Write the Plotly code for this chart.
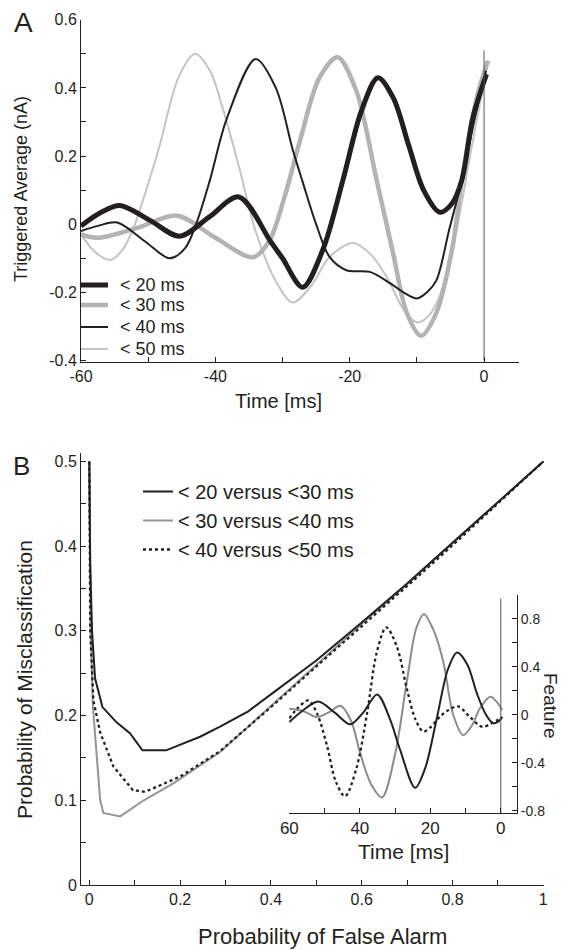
import plotly.graph_objects as go

# ---------------- Panel A: triggered averages ----------------
t20 = [-60, -57, -54.2, -49.8, -45.3, -41, -36.5, -31.8, -30, -27, -24, -21, -18.3, -15.8, -13.5, -11.2, -9, -6.6, -4.8, -3.3, -1.7, 0.36]
v20 = [-0.005, 0.035, 0.055, 0.012, -0.035, 0.02, 0.08, -0.05, -0.1, -0.185, -0.075, 0.13, 0.33, 0.43, 0.37, 0.23, 0.1, 0.035, 0.06, 0.13, 0.31, 0.44]

t30 = [-60, -57.5, -51.5, -45.7, -40, -34.4, -32, -29.7, -27.4, -24.5, -21.8, -19, -16, -13.6, -11.5, -9.4, -7.1, -4.7, -3.3, -1.1, 0.6]
v30 = [-0.03, -0.04, -0.01, 0.025, -0.04, -0.097, -0.05, 0.08, 0.245, 0.43, 0.49, 0.39, 0.13, -0.08, -0.26, -0.327, -0.26, -0.067, 0.13, 0.37, 0.48]

t40 = [-60, -57.5, -54.6, -50.5, -46.8, -44.5, -42.8, -40.8, -38.3, -34, -31, -28.5, -27.1, -25, -23, -20.5, -17, -14, -12, -10, -8.5, -7.1, -5.2, -3.3, -1.5, 0.3]
v40 = [-0.02, -0.005, 0.005, -0.05, -0.10, -0.07, 0.004, 0.13, 0.31, 0.485, 0.4, 0.22, 0.13, 0.0, -0.096, -0.135, -0.14, -0.173, -0.2, -0.218, -0.2, -0.165, -0.017, 0.13, 0.3, 0.45]

t50 = [-60, -58, -55.7, -54, -52.3, -50.3, -48.3, -45.5, -43, -40.8, -38.9, -36.5, -34.1, -31.2, -28.5, -25.7, -23, -19.5, -16.8, -14.5, -12, -10, -8.3, -6.6, -4.1, -2, 0.5]
v50 = [-0.03, -0.08, -0.105, -0.08, -0.017, 0.1, 0.23, 0.43, 0.5, 0.45, 0.34, 0.17, -0.015, -0.16, -0.23, -0.18, -0.096, -0.055, -0.09, -0.155, -0.25, -0.288, -0.27, -0.21, -0.017, 0.21, 0.47]

zeroA_t = [0, 0]
zeroA_v = [-0.4, 0.51]

namesA = ["< 20 ms", "< 30 ms", "< 40 ms", "< 50 ms"]

A_xticks = [-60, -40, -20, 0]
A_xticktext = ["-60", "-40", "-20", "0"]
A_xminor = [-50, -30, -10]
A_yticks = [-0.4, -0.2, 0, 0.2, 0.4, 0.6]
A_yticktext = ["-0.4", "-0.2", "0", "0.2", "0.4", "0.6"]
A_yminor = [-0.3, -0.1, 0.1, 0.3, 0.5]

# ---------------- Panel B: misclassification ----------------
fa20 = [0, 0.002, 0.006, 0.0126, 0.029, 0.06, 0.09, 0.117, 0.169, 0.244, 0.288, 0.35, 0.4, 0.5, 0.6, 0.7, 0.8, 0.9, 1.0]
pm20 = [0.5, 0.38, 0.3, 0.244, 0.21, 0.192, 0.179, 0.159, 0.159, 0.175, 0.187, 0.205, 0.225, 0.265, 0.31, 0.356, 0.404, 0.452, 0.5]

fa30 = [0, 0.003, 0.008, 0.016, 0.024, 0.031, 0.068, 0.12, 0.185, 0.288, 0.4, 0.5, 0.6, 0.7, 0.8, 0.9, 1.0]
pm30 = [0.5, 0.3, 0.21, 0.16, 0.1, 0.085, 0.081, 0.1, 0.12, 0.157, 0.211, 0.26, 0.308, 0.355, 0.403, 0.452, 0.5]

fa40 = [0, 0.002, 0.009, 0.024, 0.053, 0.096, 0.123, 0.2, 0.288, 0.4, 0.5, 0.6, 0.7, 0.8, 0.9, 1.0]
pm40 = [0.5, 0.3, 0.218, 0.18, 0.14, 0.112, 0.11, 0.128, 0.158, 0.21, 0.258, 0.305, 0.353, 0.401, 0.45, 0.5]

namesB = ["< 20 versus <30 ms", "< 30 versus <40 ms", "< 40 versus <50 ms"]

B_xticks = [0, 0.2, 0.4, 0.6, 0.8, 1]
B_xticktext = ["0", "0.2", "0.4", "0.6", "0.8", "1"]
B_xminor = [0.1, 0.3, 0.5, 0.7, 0.9]
B_yticks = [0, 0.1, 0.2, 0.3, 0.4, 0.5]
B_yticktext = ["0", "0.1", "0.2", "0.3", "0.4", "0.5"]
B_yminor = [0.05, 0.15, 0.25, 0.35, 0.45]

# ---------------- Inset: features ----------------
ti_blk = [60, 56, 51.8, 47.2, 42.7, 39, 35.1, 31.4, 28.6, 24.3, 21.5, 18.3, 15, 12.4, 9.5, 6.8, 4.2, 2.2, 0.8, -0.4]
vi_blk = [-0.06, 0.04, 0.11, 0.02, -0.08, 0.02, 0.17, -0.04, -0.29, -0.61, -0.45, -0.05, 0.38, 0.52, 0.42, 0.18, 0.0, -0.07, -0.06, -0.02]

ti_gry = [60, 56, 52.2, 48.8, 45.5, 42.5, 39.9, 36.8, 33.7, 30, 26.6, 24, 21.8, 19, 16.3, 13.5, 10.7, 8.2, 6, 3, 1.2, -0.4]
vi_gry = [0.05, 0.03, -0.02, 0.02, 0.075, -0.05, -0.32, -0.58, -0.69, -0.33, 0.29, 0.72, 0.84, 0.7, 0.44, 0.0, -0.17, -0.09, 0.05, 0.15, 0.11, 0.04]

ti_dot = [60, 57.5, 54.6, 52, 49.3, 46.8, 44.2, 41, 37.9, 35.2, 32.5, 29.5, 26.6, 24.2, 22, 19.8, 17.2, 14.8, 12.1, 8.7, 5.3, 2.5, -0.4]
vi_dot = [-0.03, 0.06, 0.12, 0.0, -0.26, -0.56, -0.68, -0.45, 0.02, 0.52, 0.73, 0.57, 0.21, -0.04, -0.14, -0.1, -0.014, 0.04, 0.07, -0.02, -0.1, -0.07, -0.02]

zeroI_t = [0, 0]
zeroI_v = [-0.82, 0.97]

I_xticks = [60, 40, 20, 0]
I_xticktext = ["60", "40", "20", "0"]
I_xminor = [50, 30, 10]
I_yticks = [-0.8, -0.4, 0, 0.4, 0.8]
I_yticktext = ["-0.8", "-0.4", "0", "0.4", "0.8"]
I_yminor = [-0.6, -0.2, 0.2, 0.6]

# ---------------- styling ----------------
INK = "#231f20"
FONT = "Arial, Liberation Sans, Helvetica, sans-serif"
W, H = 567, 950
OFF = 8  # the page body adds an 8px margin; place everything in window pixels


def px(x):
    return (x - OFF) / W


def py(y):
    return 1 - (y - OFF) / H


fig = go.Figure()

# Panel A traces (light ones drawn first)
styleA = {
    namesA[3]: (t50, v50, "#c4c4c6", 2.0),
    namesA[1]: (t30, v30, "#b3b3b5", 4.5),
    namesA[2]: (t40, v40, INK, 2.0),
    namesA[0]: (t20, v20, INK, 5.0),
}
for nm, (tx, vy, col, w) in styleA.items():
    fig.add_trace(go.Scatter(x=tx, y=vy, name=nm, mode="lines", showlegend=False,
                             line=dict(color=col, width=w, shape="spline", smoothing=0.9),
                             xaxis="x", yaxis="y"))
fig.add_trace(go.Scatter(x=zeroA_t, y=zeroA_v, mode="lines", showlegend=False,
                         line=dict(color="#555555", width=1), xaxis="x", yaxis="y"))

# Panel B traces
fig.add_trace(go.Scatter(x=fa30, y=pm30, name=namesB[1], mode="lines",
                         line=dict(color="#959595", width=2), xaxis="x2", yaxis="y2",
                         legend="legend2", legendrank=2))
fig.add_trace(go.Scatter(x=fa40, y=pm40, name=namesB[2], mode="lines",
                         line=dict(color=INK, width=2.3, dash="dot"), xaxis="x2", yaxis="y2",
                         legend="legend2", legendrank=3))
fig.add_trace(go.Scatter(x=fa20, y=pm20, name=namesB[0], mode="lines",
                         line=dict(color=INK, width=2), xaxis="x2", yaxis="y2",
                         legend="legend2", legendrank=1))

# Inset traces
fig.add_trace(go.Scatter(x=ti_gry, y=vi_gry, mode="lines", showlegend=False,
                         line=dict(color="#8c8c8c", width=2, shape="spline", smoothing=0.9),
                         xaxis="x3", yaxis="y3"))
fig.add_trace(go.Scatter(x=ti_dot, y=vi_dot, mode="lines", showlegend=False,
                         line=dict(color=INK, width=2.3, dash="dot", shape="spline", smoothing=0.9),
                         xaxis="x3", yaxis="y3"))
fig.add_trace(go.Scatter(x=ti_blk, y=vi_blk, mode="lines", showlegend=False,
                         line=dict(color=INK, width=2, shape="spline", smoothing=0.9),
                         xaxis="x3", yaxis="y3"))
fig.add_trace(go.Scatter(x=zeroI_t, y=zeroI_v, mode="lines", showlegend=False,
                         line=dict(color="#555555", width=1), xaxis="x3", yaxis="y3"))


def ax(domain, rng, tv, tt, minor, fsize, anchor, side=None):
    d = dict(domain=domain, range=rng, tickmode="array", tickvals=tv, ticktext=tt,
             ticks="inside", ticklen=5, tickwidth=1, tickcolor=INK,
             showline=True, linecolor=INK, linewidth=1, showgrid=False, zeroline=False,
             tickfont=dict(family=FONT, size=fsize, color=INK), anchor=anchor, automargin=False,
             minor=dict(tickvals=minor, ticks="inside", ticklen=5, tickwidth=1, tickcolor=INK))
    if side:
        d["side"] = side
    return d


fig.update_layout(
    width=W, height=H, margin=dict(l=0, r=0, t=0, b=0, pad=0, autoexpand=False),
    paper_bgcolor="white", plot_bgcolor="rgba(0,0,0,0)",
    font=dict(family=FONT, color=INK),
    xaxis=ax([px(81), px(519)], [-60, 5.2], A_xticks, A_xticktext, A_xminor, 16, "y"),
    yaxis=ax([py(362), py(19.75)], [-0.4044, 0.6], A_yticks, A_yticktext, A_yminor, 16, "x"),
    xaxis2=ax([px(81), px(544)], [-0.0183, 1.0015], B_xticks, B_xticktext, B_xminor, 16, "y2"),
    yaxis2=ax([py(885), py(453)], [0, 0.51], B_yticks, B_yticktext, B_yminor, 16, "x2"),
    xaxis3=ax([px(289), px(517)], [60.1, -4.6], I_xticks, I_xticktext, I_xminor, 17, "y3"),
    yaxis3=ax([py(813), py(595)], [-0.82, 1.0], I_yticks, I_yticktext, I_yminor, 14, "x3", side="right"),
    legend2=dict(x=px(138), y=py(472), xanchor="left", yanchor="top",
                 bgcolor="rgba(0,0,0,0)", borderwidth=0,
                 font=dict(family=FONT, size=20, color=INK), traceorder="normal"),
    showlegend=True,
)

# Panel A legend (keys + labels), drawn in paper space
legA_rows = [285, 305, 327, 349]
legA_keys = [(INK, 5.0), ("#b3b3b5", 4.5), (INK, 2.0), ("#c4c4c6", 2.0)]
for row, nm, (col, w) in zip(legA_rows, namesA, legA_keys):
    fig.add_shape(type="line", xref="paper", yref="paper",
                  x0=px(81), x1=px(108), y0=py(row), y1=py(row),
                  line=dict(color=col, width=w))
    fig.add_annotation(text=nm, x=px(118), y=py(row), xref="paper", yref="paper",
                       xanchor="left", yanchor="middle", showarrow=False,
                       font=dict(family=FONT, size=18, color=INK))

ann = [
    dict(text="A", x=23, y=22, size=28, angle=0),
    dict(text="B", x=21, y=466, size=26, angle=0),
    dict(text="Triggered Average (nA)", x=21, y=189, size=18, angle=-90),
    dict(text="Time [ms]", x=278, y=401, size=20, angle=0),
    dict(text="Probability of Misclassification", x=24, y=680, size=21, angle=-90),
    dict(text="Probability of False Alarm", x=322, y=936, size=22, angle=0),
    dict(text="Time [ms]", x=403, y=851, size=21, angle=0),
    dict(text="Feature", x=551, y=705, size=19, angle=90),
]
for a in ann:
    fig.add_annotation(text=a["text"], x=px(a["x"]), y=py(a["y"]), xref="paper", yref="paper",
                       xanchor="center", yanchor="middle", showarrow=False, textangle=a["angle"],
                       font=dict(family=FONT, size=a["size"], color=INK))

fig.write_html("out.html")
